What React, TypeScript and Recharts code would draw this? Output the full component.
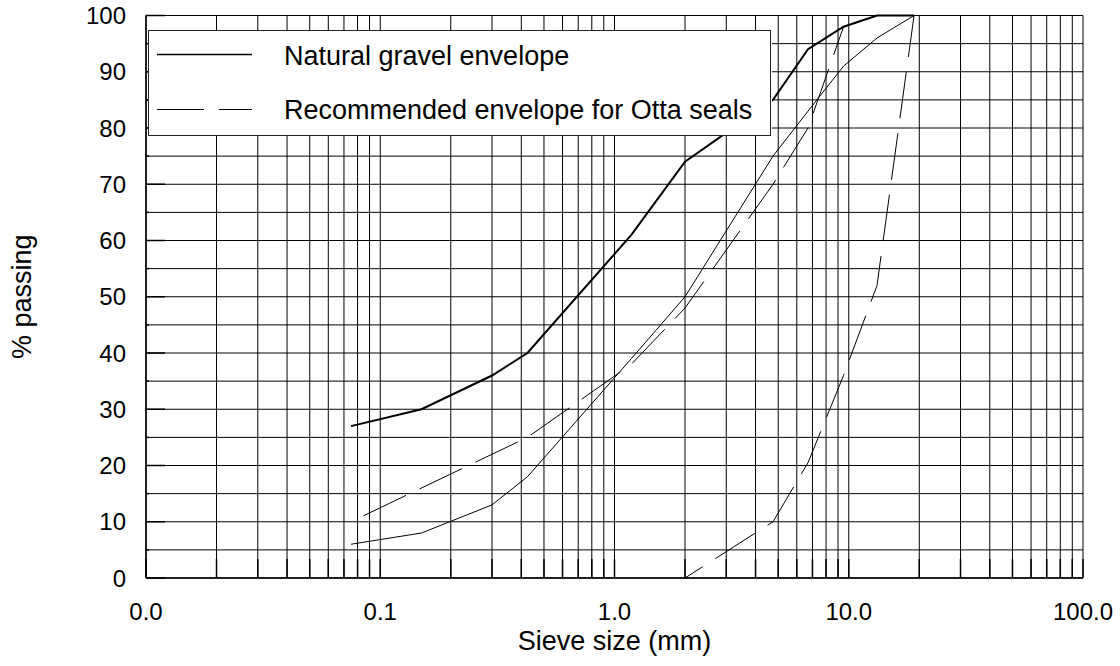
import { CartesianGrid, Legend, Line, LineChart, XAxis, YAxis } from "recharts"

// sieve sizes in mm and % passing for each envelope
const sieveSizes = [0.075, 0.15, 0.3, 0.425, 1.18, 2.0, 4.75, 6.7, 9.5, 13.2, 19.0]
const naturalUpper = [27, 30, 36, 40, 61, 74, 85, 94, 98, 100, 100]
const naturalLower = [6, 8, 13, 18, 39, 50, 75, 83, 91, 96, 100]
const ottaUpper = [10, 16, 22, 25, 38, 48, 70, 80, 98, 100, 100]
const ottaLower = [null, null, null, null, null, 0, 10, 20.5, 36, 52, 100]

const xGridTicks = [
  0.01, 0.02, 0.03, 0.04, 0.05, 0.06, 0.07, 0.08, 0.09,
  0.1, 0.2, 0.3, 0.4, 0.5, 0.6, 0.7, 0.8, 0.9,
  1, 2, 3, 4, 5, 6, 7, 8, 9,
  10, 20, 30, 40, 50, 60, 70, 80, 90,
  100,
]
const xLabelTicks = [0.01, 0.1, 1, 10, 100]
const yTicks = [0, 5, 10, 15, 20, 25, 30, 35, 40, 45, 50, 55, 60, 65, 70, 75, 80, 85, 90, 95, 100]
const yLabelTicks = [0, 10, 20, 30, 40, 50, 60, 70, 80, 90, 100]

const legendLabels = ["Natural gravel envelope", "Recommended envelope for Otta seals"]

const data = sieveSizes.map((size, i) => ({
  size,
  naturalUpper: naturalUpper[i],
  naturalLower: naturalLower[i],
  ottaUpper: ottaUpper[i],
  ottaLower: ottaLower[i],
}))

const FONT = "'Liberation Sans', Arial, sans-serif"

const XTick = ({ x, y, payload }: any) => {
  const base = y - 8
  const v = payload.value
  return (
    <g>
      <line x1={x} x2={x} y1={base} y2={base - 19} stroke="#000" strokeWidth={1.5} />
      {xLabelTicks.includes(v) && (
        <text x={x} y={base + 42} textAnchor="middle" fontSize={24} fill="#000" fontFamily={FONT}>
          {v.toFixed(1)}
        </text>
      )}
    </g>
  )
}

const YTick = ({ x, y, payload }: any) => {
  const left = x + 8
  const v = payload.value
  const major = yLabelTicks.includes(v)
  return (
    <g>
      <line x1={left} x2={left + (major ? 19 : 3)} y1={y} y2={y} stroke="#000" strokeWidth={1.5} />
      {major && (
        <text x={left - 20} y={y + 8.6} textAnchor="end" fontSize={24} fill="#000" fontFamily={FONT}>
          {v}
        </text>
      )}
    </g>
  )
}

const LegendBox = () => (
  <svg width={624} height={106} style={{ display: "block", background: "#fff" }}>
    <rect x={0.5} y={0.5} width={622} height={105} fill="#fff" stroke="#222" strokeWidth={1} />
    <line x1={9} x2={104} y1={24.5} y2={24.5} stroke="#000" strokeWidth={1.5} />
    <text x={136} y={35} fontSize={27} fill="#000" fontFamily={FONT}>
      {legendLabels[0]}
    </text>
    <line x1={9} x2={104} y1={79.5} y2={79.5} stroke="#000" strokeWidth={1} strokeDasharray="47 15" />
    <text x={136} y={89.3} fontSize={27} fill="#000" fontFamily={FONT}>
      {legendLabels[1]}
    </text>
  </svg>
)

export default function App() {
  return (
    <div style={{ position: "absolute", left: 0, top: 0 }}>
      <LineChart
        width={1120}
        height={666}
        data={data}
        margin={{ top: 15.5, right: 37, bottom: 0, left: 0 }}
        style={{ fontFamily: FONT }}
      >
        <CartesianGrid stroke="#000" strokeWidth={1} />
        <XAxis
          dataKey="size"
          type="number"
          scale="log"
          domain={[0.01, 100]}
          allowDataOverflow
          ticks={xGridTicks}
          interval={0}
          height={88}
          tickSize={6}
          tickMargin={2}
          tickLine={false}
          tick={<XTick />}
          axisLine={{ stroke: "#000", strokeWidth: 1.5 }}
          label={{
            content: ({ viewBox }: any) => (
              <text
                x={viewBox.x + viewBox.width / 2}
                y={viewBox.y + 72}
                textAnchor="middle"
                fontSize={27}
                fill="#000"
                fontFamily={FONT}
              >
                Sieve size (mm)
              </text>
            ),
          }}
        />
        <YAxis
          type="number"
          domain={[0, 100]}
          ticks={yTicks}
          interval={0}
          width={146}
          tickSize={6}
          tickMargin={2}
          tickLine={false}
          tick={<YTick />}
          axisLine={{ stroke: "#000", strokeWidth: 1.5 }}
          label={{
            content: ({ viewBox }: any) => {
              const cx = viewBox.x + 31
              const cy = viewBox.y + viewBox.height / 2
              return (
                <text
                  x={cx}
                  y={cy}
                  transform={`rotate(-90 ${cx} ${cy})`}
                  textAnchor="middle"
                  fontSize={27}
                  fill="#000"
                  fontFamily={FONT}
                >
                  % passing
                </text>
              )
            },
          }}
        />
        <Line
          dataKey="naturalUpper"
          type="linear"
          stroke="#000"
          strokeWidth={2}
          dot={false}
          isAnimationActive={false}
        />
        <Line
          dataKey="naturalLower"
          type="linear"
          stroke="#000"
          strokeWidth={1}
          dot={false}
          isAnimationActive={false}
        />
        <Line
          dataKey="ottaUpper"
          type="linear"
          stroke="#000"
          strokeWidth={1}
          strokeDasharray="47 15"
          strokeDashoffset={48}
          dot={false}
          isAnimationActive={false}
        />
        <Line
          dataKey="ottaLower"
          type="linear"
          stroke="#000"
          strokeWidth={1}
          strokeDasharray="47 15"
          strokeDashoffset={26}
          dot={false}
          isAnimationActive={false}
        />
        <Legend
          layout="horizontal"
          verticalAlign="middle"
          align="center"
          content={() => <LegendBox />}
          wrapperStyle={{ left: 148, top: 30, width: 624, height: 106 }}
        />
      </LineChart>
    </div>
  )
}
